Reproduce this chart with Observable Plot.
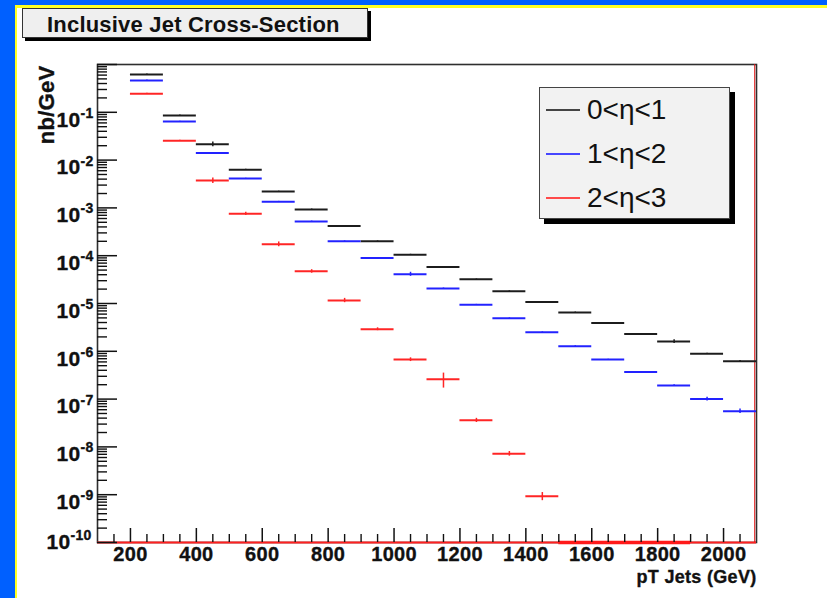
<!DOCTYPE html>
<html>
<head>
<meta charset="utf-8">
<script src="https://cdn.jsdelivr.net/npm/d3@7"></script>
<script src="https://cdn.jsdelivr.net/npm/@observablehq/plot@0.6"></script>
<style>
  html, body { margin: 0; padding: 0; background: #fff; overflow: hidden; }
  #canvas { position: relative; width: 827px; height: 598px; background: #fff;
            font-family: "Liberation Sans", Arial, Helvetica, sans-serif; }
  .band { position: absolute; }
  #chart { position: absolute; left: 0; top: 0; width: 827px; height: 598px; }
  #title { position: absolute; left: 22px; top: 8px; width: 346px; height: 30px;
           box-sizing: border-box; background: #efefef; border: 1px solid #333;
           box-shadow: 3px 3px 0 #000; font-weight: bold; font-size: 22px; letter-spacing: 0.2px;
           line-height: 32px; padding-left: 24px; color: #111; white-space: nowrap; overflow: visible; }
  #legend { position: absolute; left: 539px; top: 87px; width: 191px; height: 132px;
            box-sizing: border-box; background: #f2f2f2; border: 1px solid #444;
            box-shadow: 5px 5px 0 #000; }
  #legend .row { position: absolute; left: 0; height: 30px; width: 190px; }
  #legend .swatch { position: absolute; left: 6px; top: 14px; width: 34px; height: 2px; }
  #legend .label { position: absolute; left: 47px; top: 0; font-size: 28px; line-height: 30px;
                   color: #111; white-space: nowrap; }
</style>
</head>
<body>
<div id="canvas">
  <div class="band" style="left:0;top:0;width:15px;height:598px;background:#0060ff"></div>
  <div class="band" style="left:0;top:0;width:827px;height:5px;background:#0060ff"></div>
  <div class="band" style="left:15px;top:5px;width:2px;height:593px;background:#ffff22"></div>
  <div class="band" style="left:15px;top:5px;width:812px;height:3px;background:#ffff22"></div>
  <div id="chart"></div>
  <div id="title">Inclusive Jet Cross-Section</div>
  <div id="legend"></div>
</div>
<script>
// Lower edges of the 100 GeV pT bins
const binLow = [200, 300, 400, 500, 600, 700, 800, 900, 1000, 1100, 1200, 1300, 1400,
                1500, 1600, 1700, 1800, 1900, 2000];
const binWidth = 100;

// Cross-section per bin (nb/GeV) for each pseudorapidity range
const central = [0.62, 0.086, 0.0215, 0.0063, 0.0022, 0.00093, 0.00042, 0.0002, 0.000105,
                 5.8e-5, 3.2e-5, 1.8e-5, 1.08e-5, 6.5e-6, 3.9e-6, 2.3e-6, 1.6e-6, 8.9e-7, 6.2e-7];
const centralErr = [0.012, 0.0017, 0.0024, 0.00012, 0.00004, 0.000018, 0.000008, 0.000004, 0.000002,
                    1.2e-6, 6e-7, 4e-7, 2e-7, 1.3e-7, 8e-8, 5e-8, 1.4e-7, 2e-8, 2e-8];

const forward = [0.46, 0.064, 0.014, 0.0041, 0.00134, 0.00052, 0.0002, 8.9e-5, 4.1e-5,
                 2.06e-5, 9.4e-6, 4.9e-6, 2.5e-6, 1.28e-6, 6.7e-7, 3.7e-7, 1.93e-7, 1.0e-7, 5.6e-8];
const forwardErr = [0.015, 0.0013, 0.0003, 0.00008, 0.00003, 0.00001, 0.000004, 0.000002, 4e-6,
                    5e-7, 2e-7, 1e-7, 5e-8, 3e-8, 1.5e-8, 1e-8, 6e-9, 9e-9, 6e-9];

const veryForward = [0.244, 0.0253, 0.00374, 0.00075, 0.000174, 4.7e-5, 1.16e-5, 2.9e-6, 6.7e-7,
                     2.6e-7, 3.6e-8, 7.2e-9, 9.3e-10];
const veryForwardErr = [0.006, 0.0008, 0.0005, 0.00006, 0.00002, 4e-6, 1.2e-6, 2e-7, 6e-8,
                        9e-8, 3.6e-9, 8e-10, 1.8e-10];
// Empty bins of the 2<η<3 histogram, drawn on the floor of the log axis
const veryForwardEmpty = [1500, 1600, 1700, 1800];

const seriesNames = ["0<η<1", "1<η<2", "2<η<3"];
const seriesColors = ["#1c1c1c", "#2222ff", "#ff2525"];
const legendColors = ["#444444", "#4646ff", "#ff4a4a"];

const yDomain = [1e-10, 1];
const xDomain = [100, 2100];
const yLabelExponents = [-1, -2, -3, -4, -5, -6, -7, -8, -9, -10];
const xTickLabels = [200, 400, 600, 800, 1000, 1200, 1400, 1600, 1800, 2000];
const xTitle = "pT Jets (GeV)";
const yTitle = "nb/GeV";

// Build one row per bin
const rows = [];
[[central, centralErr], [forward, forwardErr], [veryForward, veryForwardErr]].forEach(([vals, errs], i) => {
  vals.forEach((v, j) => rows.push({lo: binLow[j], hi: binLow[j] + binWidth, v, err: errs[j], s: seriesNames[i]}));
});

// Axis tick positions
const majorY = d3.range(-10, 1).map(e => Math.pow(10, e));
const minorY = [];
for (let e = -10; e < 0; e++) for (let k = 2; k <= 9; k++) minorY.push(k * Math.pow(10, e));
const minorX = d3.range(150, 2100, 50).filter(v => v % 200 !== 0);

const W = 827, H = 598;
const mL = 97, mR = 71, mT = 64, mB = 56;
const plotW = W - mL - mR, plotH = H - mT - mB;
const ink = "#111";
const singleDigit = yLabelExponents.filter(e => e > -10);
const doubleDigit = yLabelExponents.filter(e => e <= -10);
// heavy bold lettering for the axes
const label = {fontWeight: "bold", fill: ink, stroke: ink, strokeWidth: 0.35};

const chart = Plot.plot({
  width: W,
  height: H,
  marginLeft: mL, marginRight: mR, marginTop: mT, marginBottom: mB,
  style: {background: "transparent", fontFamily: "'Liberation Sans', Arial, Helvetica, sans-serif"},
  x: {domain: xDomain, axis: null},
  y: {type: "log", domain: yDomain, axis: null},
  color: {domain: seriesNames, range: seriesColors},
  marks: [
    Plot.frame({stroke: "#2e2e2e", strokeWidth: 1.6}),
    // floor line and right edge of the 2<η<3 histogram
    Plot.ruleY([yDomain[0]], {stroke: "#ff2020", strokeWidth: 2}),
    Plot.ruleX([xDomain[1]], {stroke: "#e01818", strokeWidth: 1, dx: -1.8}),
    Plot.ruleY(veryForwardEmpty, {x1: d => d, x2: d => d + binWidth, y: () => yDomain[0],
                                  stroke: "#ff1a1a", strokeWidth: 3.5}),
    // histogram bins and their errors
    Plot.ruleY(rows, {x1: "lo", x2: "hi", y: "v", stroke: "s", strokeWidth: 2}),
    Plot.ruleX(rows, {x: d => d.lo + binWidth / 2, y1: d => d.v - d.err, y2: d => d.v + d.err,
                      stroke: "s", strokeWidth: 1.5}),
    // y ticks, pointing into the frame
    Plot.tickY(minorY, {y: d => d, insetRight: plotW - 10, stroke: ink, strokeWidth: 1.4}),
    Plot.tickY(majorY, {y: d => d, insetRight: plotW - 20, stroke: ink, strokeWidth: 1.5}),
    // x ticks
    Plot.tickX(minorX, {x: d => d, insetTop: plotH - 8, stroke: ink, strokeWidth: 1.4}),
    Plot.tickX(xTickLabels, {x: d => d, insetTop: plotH - 14, stroke: ink, strokeWidth: 1.5}),
    // y tick labels as 10 with a raised exponent
    Plot.text(singleDigit, {y: e => Math.pow(10, e), text: () => "10",
      frameAnchor: "left", textAnchor: "end", dx: -17, dy: 7.5, fontSize: 21, ...label}),
    Plot.text(singleDigit, {y: e => Math.pow(10, e), text: e => String(e),
      frameAnchor: "left", textAnchor: "start", dx: -17, dy: 1, fontSize: 14, ...label}),
    Plot.text(doubleDigit, {y: e => Math.pow(10, e), text: () => "10",
      frameAnchor: "left", textAnchor: "end", dx: -27, dy: 0, fontSize: 21, ...label}),
    Plot.text(doubleDigit, {y: e => Math.pow(10, e), text: e => String(e),
      frameAnchor: "left", textAnchor: "start", dx: -27, dy: -6.5, fontSize: 14, ...label}),
    // x tick labels
    Plot.text(xTickLabels, {x: d => d, text: d => String(d), frameAnchor: "bottom", dy: 18.5,
      fontSize: 20, ...label}),
    // axis titles
    Plot.text([xTitle], {text: d => d, frameAnchor: "bottom-right", textAnchor: "end", dy: 40,
      fontSize: 18, ...label}),
    Plot.text([yTitle], {text: d => d, frameAnchor: "top-left", textAnchor: "end", rotate: -90,
      dx: -59, dy: 1, fontSize: 22, ...label})
  ]
});

d3.select(chart).selectAll("text").attr("letter-spacing", "0.3px");
document.getElementById("chart").appendChild(chart);

// legend entries
const legend = document.getElementById("legend");
const rowTops = [7, 51, 95];
seriesNames.forEach((name, i) => {
  const row = document.createElement("div");
  row.className = "row";
  row.style.top = rowTops[i] + "px";
  const sw = document.createElement("div");
  sw.className = "swatch";
  sw.style.backgroundColor = legendColors[i];
  const lb = document.createElement("div");
  lb.className = "label";
  lb.textContent = name;
  row.appendChild(sw);
  row.appendChild(lb);
  legend.appendChild(row);
});
</script>
</body>
</html>
